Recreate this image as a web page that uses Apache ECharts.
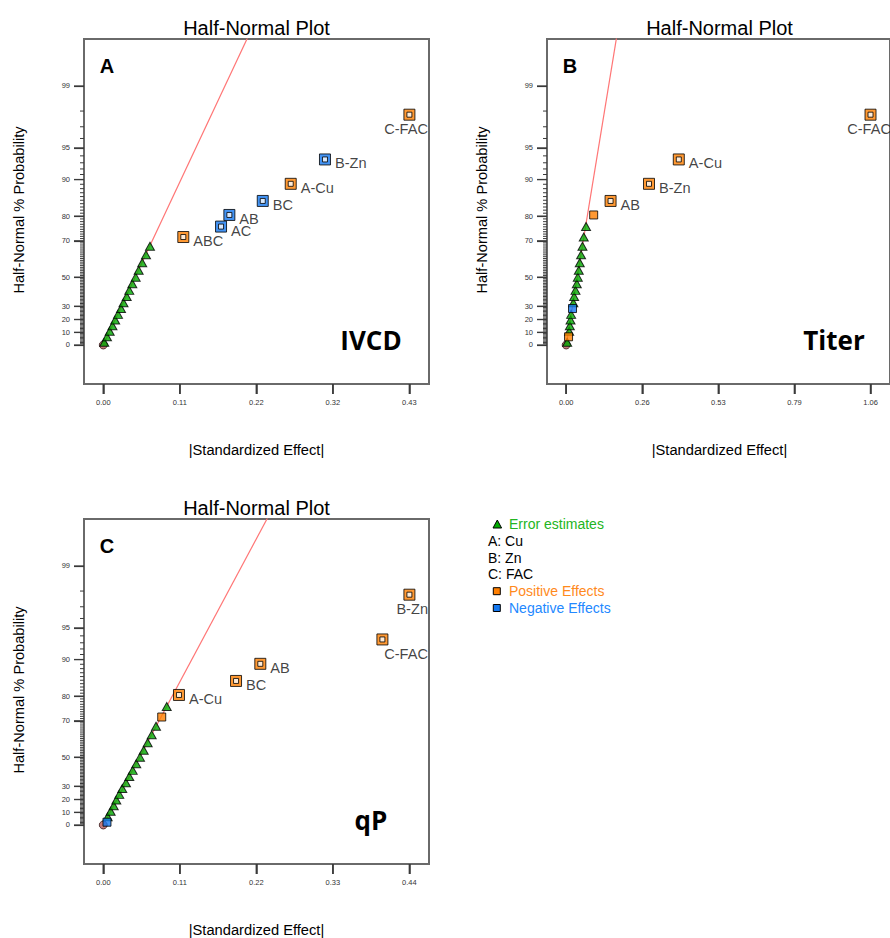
<!DOCTYPE html>
<html>
<head>
<meta charset="utf-8">
<script src="https://cdn.jsdelivr.net/npm/echarts@6/dist/echarts.min.js"></script>
<style>html,body{margin:0;padding:0;background:#fff}#c{width:890px;height:938px}</style>
</head>
<body>
<div id="c"></div>
<script>
// ---------- data ----------
// Probability axis labels (half-normal %)
const probTickLabels = [0, 10, 20, 30, 50, 70, 80, 90, 95, 99];

// Panel A : IVCD
const A_errorEffect = [0.0014, 0.0052, 0.0090, 0.0129, 0.0167, 0.0207, 0.0249, 0.0284, 0.0329, 0.0365, 0.0408, 0.0455, 0.0497, 0.0547, 0.0600, 0.0656];
const A_errorProb   = [2.2, 6.5, 10.9, 15.2, 19.6, 23.9, 28.3, 32.6, 37.0, 41.3, 45.7, 50.0, 54.3, 58.7, 63.0, 67.4];
const A_plainEffect = [];
const A_plainProb   = [];
const A_plainSign   = [];
const A_termNames   = ['ABC', 'AC', 'AB', 'BC', 'A-Cu', 'B-Zn', 'C-FAC'];
const A_termEffect  = [0.1124, 0.1654, 0.1771, 0.2240, 0.2633, 0.3114, 0.4300];
const A_termProb    = [71.7, 76.1, 80.4, 84.8, 89.1, 93.5, 97.8];
const A_termSign    = ['+', '-', '-', '-', '+', '-', '+'];
const A_xTicks      = [0, 0.1075, 0.215, 0.3225, 0.43];
const A_xTickLabels = ['0.00', '0.11', '0.22', '0.32', '0.43'];
const A_line        = [[0, 0], [0.2119, 99.86]];

// Panel B : Titer
const B_errorEffect = [0.0035, 0.0104, 0.0128, 0.0152, 0.0173, 0.0250, 0.0277, 0.0325, 0.0370, 0.0405, 0.0439, 0.0474, 0.0519, 0.0567, 0.0612, 0.0692];
const B_errorProb   = [2.2, 10.9, 15.2, 19.6, 23.9, 32.6, 37.0, 41.3, 45.7, 50.0, 54.3, 58.7, 63.0, 67.4, 71.7, 76.1];
const B_plainEffect = [0.0083, 0.0221, 0.0958];
const B_plainProb   = [6.5, 28.3, 80.4];
const B_plainSign   = ['+', '-', '+'];
const B_termNames   = ['AB', 'B-Zn', 'A-Cu', 'C-FAC'];
const B_termEffect  = [0.1546, 0.2885, 0.3922, 1.06];
const B_termProb    = [84.8, 89.1, 93.5, 97.8];
const B_termSign    = ['+', '+', '+', '+'];
const B_xTicks      = [0, 0.265, 0.53, 0.795, 1.06];
const B_xTickLabels = ['0.00', '0.26', '0.53', '0.79', '1.06'];
const B_line        = [[0, 0], [0.1833, 99.86]];

// Panel C : qP
const C_errorEffect = [0.0063, 0.0106, 0.0150, 0.0187, 0.0230, 0.0273, 0.0326, 0.0374, 0.0423, 0.0474, 0.0528, 0.0581, 0.0638, 0.0696, 0.0758, 0.0912];
const C_errorProb   = [6.5, 10.9, 15.2, 19.6, 23.9, 28.3, 32.6, 37.0, 41.3, 45.7, 50.0, 54.3, 58.7, 63.0, 67.4, 76.1];
const C_plainEffect = [0.0053, 0.0840];
const C_plainProb   = [2.2, 71.7];
const C_plainSign   = ['-', '+'];
const C_termNames   = ['A-Cu', 'BC', 'AB', 'C-FAC', 'B-Zn'];
const C_termEffect  = [0.1088, 0.1908, 0.2257, 0.4012, 0.44];
const C_termProb    = [80.4, 84.8, 89.1, 93.5, 97.8];
const C_termSign    = ['+', '+', '+', '+', '+'];
const C_xTicks      = [0, 0.11, 0.22, 0.33, 0.44];
const C_xTickLabels = ['0.00', '0.11', '0.22', '0.33', '0.44'];
const C_line        = [[0, 0], [0.247, 99.86]];

const panelTags   = ['A', 'B', 'C'];
const panelNames  = ['IVCD', 'Titer', 'qP'];
const plotTitle   = 'Half-Normal Plot';
const xAxisTitle  = '|Standardized Effect|';
const yAxisTitle  = 'Half-Normal % Probability';
const legendItems = ['Error estimates', 'A: Cu', 'B: Zn', 'C: FAC', 'Positive Effects', 'Negative Effects'];

// ---------- half-normal probability scale ----------
function probit(p) {
  const a = [-3.969683028665376e+01, 2.209460984245205e+02, -2.759285104469687e+02, 1.383577518672690e+02, -3.066479806614716e+01, 2.506628277459239e+00];
  const b = [-5.447609879822406e+01, 1.615858368580409e+02, -1.556989798598866e+02, 6.680131188771972e+01, -1.328068155288572e+01];
  const c = [-7.784894002430293e-03, -3.223964580411365e-01, -2.400758277161838e+00, -2.549732539343734e+00, 4.374664141464968e+00, 2.938163982698783e+00];
  const d = [7.784695709041462e-03, 3.224671290700398e-01, 2.445134137142996e+00, 3.754408661907416e+00];
  const pl = 0.02425, ph = 1 - pl;
  let q, r;
  if (p < pl) { q = Math.sqrt(-2 * Math.log(p)); return (((((c[0]*q+c[1])*q+c[2])*q+c[3])*q+c[4])*q+c[5]) / ((((d[0]*q+d[1])*q+d[2])*q+d[3])*q+1); }
  if (p <= ph) { q = p - 0.5; r = q*q; return (((((a[0]*r+a[1])*r+a[2])*r+a[3])*r+a[4])*r+a[5])*q / (((((b[0]*r+b[1])*r+b[2])*r+b[3])*r+b[4])*r+1); }
  q = Math.sqrt(-2 * Math.log(1 - p)); return -(((((c[0]*q+c[1])*q+c[2])*q+c[3])*q+c[4])*q+c[5]) / ((((d[0]*q+d[1])*q+d[2])*q+d[3])*q+1);
}
// half-normal score, shifted so that the axis starts at 0 (bottom edge of the frame)
const Y_LOW = -0.388, Y_HIGH = 3.043;
function hz(pct) { return (pct <= 0 ? 0 : probit(0.5 + pct / 200)) - Y_LOW; }

// ---------- layout / style ----------
const FONT = 'Liberation Sans, Arial, Helvetica, sans-serif';
const BOLDFONT = '"Open Sans", "Noto Sans", sans-serif';
const ORANGE = '#ff7f00', BLUE = '#1478f0', GREEN = '#00aa00';
const FRAME = '#6a6a6a', TICK = '#3a3a3a';
const GRIDS = [
  {left: 84, top: 39, width: 345, height: 345},
  {left: 547, top: 39, width: 345, height: 345},
  {left: 84, top: 519, width: 345, height: 345}
];

const panels = [
  {err: [A_errorEffect, A_errorProb], plain: [A_plainEffect, A_plainProb, A_plainSign], term: [A_termNames, A_termEffect, A_termProb, A_termSign], ticks: A_xTicks, tickLabels: A_xTickLabels, line: A_line},
  {err: [B_errorEffect, B_errorProb], plain: [B_plainEffect, B_plainProb, B_plainSign], term: [B_termNames, B_termEffect, B_termProb, B_termSign], ticks: B_xTicks, tickLabels: B_xTickLabels, line: B_line},
  {err: [C_errorEffect, C_errorProb], plain: [C_plainEffect, C_plainProb, C_plainSign], term: [C_termNames, C_termEffect, C_termProb, C_termSign], ticks: C_xTicks, tickLabels: C_xTickLabels, line: C_line}
];

const majorZ = probTickLabels.map(hz);
const minorZ = [];
for (let p = 1; p < 99; p++) if (probTickLabels.indexOf(p) < 0) minorZ.push(hz(p));

const grid = [], xAxis = [], yAxis = [], series = [], graphic = [];
const shiftedTicks = [];

panels.forEach((P, k) => {
  const g = GRIDS[k];
  grid.push(Object.assign({show: true, borderColor: FRAME, borderWidth: 2}, g));
  const xMax = P.ticks[P.ticks.length - 1];
  const xOff = 0.063 * xMax;            // frame padding left of zero effect
  const fx = e => e + xOff;
  const tks = P.ticks.map(fx);
  shiftedTicks.push(tks);
  xAxis.push({
    gridIndex: k, type: 'value', min: 0, max: 1.127 * xMax,
    axisLine: {show: true, lineStyle: {color: FRAME, width: 2}}, splitLine: {show: false},
    axisTick: {show: true, customValues: tks, length: 10, lineStyle: {color: TICK, width: 1.5}},
    axisLabel: {customValues: tks, margin: 14, fontSize: 7.5, color: '#333', fontFamily: FONT,
      formatter: v => { for (let i = 0; i < tks.length; i++) if (Math.abs(tks[i] - v) < 1e-9) return P.tickLabels[i]; return ''; }}
  });
  yAxis.push({
    gridIndex: k, type: 'value', min: 0, max: Y_HIGH - Y_LOW,
    axisLine: {show: true, lineStyle: {color: FRAME, width: 2}}, splitLine: {show: false},
    axisTick: {show: true, customValues: majorZ, length: 10, lineStyle: {color: TICK, width: 1.2}},
    axisLabel: {customValues: majorZ, margin: 14, fontSize: 7.5, color: '#333', fontFamily: FONT,
      formatter: v => { for (let i = 0; i < majorZ.length; i++) if (Math.abs(majorZ[i] - v) < 1e-9) return String(probTickLabels[i]); return ''; }}
  });
  const ax = {xAxisIndex: k, yAxisIndex: k};
  // fitted line
  series.push(Object.assign({type: 'line', data: P.line.map(d => [fx(d[0]), hz(d[1])]),
    symbol: 'none', silent: true, clip: true, lineStyle: {color: '#ff7575', width: 1.2}, z: 1}, ax));
  // origin marker
  series.push(Object.assign({type: 'scatter', data: [[fx(0), hz(0)]], symbol: 'circle', symbolSize: 8,
    itemStyle: {color: '#b55a5a', borderColor: '#3a1c1c', borderWidth: 1}, silent: true, z: 2}, ax));
  // error estimates
  series.push(Object.assign({type: 'scatter',
    data: P.err[0].map((e, i) => [fx(e), hz(P.err[1][i])]), symbol: 'triangle', symbolSize: [9, 8],
    itemStyle: {color: GREEN, borderColor: '#000', borderWidth: 1}, silent: true, z: 3}, ax));
  // unlabeled effects
  series.push(Object.assign({type: 'scatter',
    data: P.plain[0].map((e, i) => ({value: [fx(e), hz(P.plain[1][i])], itemStyle: {color: P.plain[2][i] === '+' ? ORANGE : BLUE}})),
    symbol: 'rect', symbolSize: 8, itemStyle: {borderColor: '#000', borderWidth: 1}, silent: true, z: 4}, ax));
  // labeled effects (outer)
  const gr = g.left + g.width;
  series.push(Object.assign({type: 'scatter',
    data: P.term[0].map((n, i) => ({name: n, value: [fx(P.term[1][i]), hz(P.term[2][i])], itemStyle: {color: P.term[3][i] === '+' ? ORANGE : BLUE}})),
    symbol: 'rect', symbolSize: 11, itemStyle: {borderColor: '#000', borderWidth: 1}, silent: true, z: 5,
    label: {show: true, position: 'right', distance: 4, formatter: '{b}', fontSize: 14.6, color: '#111', fontFamily: FONT},
    labelLayout: params => {
      const lr = params.labelRect;
      if (lr.x + lr.width > gr - 1) {
        return {x: gr - 1, y: params.rect.y + params.rect.height + 1, align: 'right', verticalAlign: 'top'};
      }
      return {dy: 4};
    }
  }, ax));
  // labeled effects (inner white)
  series.push(Object.assign({type: 'scatter',
    data: P.term[1].map((e, i) => [fx(e), hz(P.term[2][i])]), symbol: 'rect', symbolSize: 5,
    itemStyle: {color: '#fff', borderColor: '#000', borderWidth: 1}, silent: true, z: 6}, ax));

  // texts
  const cx = g.left + g.width / 2;
  graphic.push({type: 'text', x: cx, y: g.top - 11.5, style: {text: plotTitle, font: '20px ' + FONT, fill: '#000', align: 'center', verticalAlign: 'middle', textAlign: 'center', textVerticalAlign: 'middle'}});
  graphic.push({type: 'text', x: cx, y: g.top + 411, style: {text: xAxisTitle, font: '14.7px ' + FONT, fill: '#000', align: 'center', verticalAlign: 'middle', textAlign: 'center', textVerticalAlign: 'middle'}});
  graphic.push({type: 'text', x: g.left - 65, y: g.top + 171, rotation: Math.PI / 2, style: {text: yAxisTitle, font: '14.6px ' + FONT, fill: '#000', align: 'center', verticalAlign: 'middle', textAlign: 'center', textVerticalAlign: 'middle'}});
  graphic.push({type: 'text', x: g.left + 23, y: g.top + 27, style: {text: panelTags[k], font: 'bold 20px ' + FONT, fill: '#000', align: 'center', verticalAlign: 'middle', textAlign: 'center', textVerticalAlign: 'middle'}});
  graphic.push({type: 'text', x: g.left + 287, y: g.top + 301, style: {text: panelNames[k], font: 'bold 26px ' + BOLDFONT, fill: '#000', align: 'center', verticalAlign: 'middle', textAlign: 'center', textVerticalAlign: 'middle'}});
});

// legend
const LX = 488, LY = 524, LS = 16.8;
graphic.push({type: 'polygon', shape: {points: [[493, 528], [501.6, 528], [497.3, 520]]}, style: {fill: GREEN, stroke: '#000', lineWidth: 1}});
graphic.push({type: 'rect', shape: {x: 493.3, y: LY + 4 * LS - 3.5, width: 7, height: 7}, style: {fill: ORANGE, stroke: '#000', lineWidth: 1}});
graphic.push({type: 'rect', shape: {x: 493.3, y: LY + 5 * LS - 3.5, width: 7, height: 7}, style: {fill: BLUE, stroke: '#000', lineWidth: 1}});
const legendColors = ['#22b522', '#000', '#000', '#000', '#ff8a1c', '#2288ff'];
const legendX = [509, LX, LX, LX, 509, 509];
legendItems.forEach((t, i) => {
  graphic.push({type: 'text', x: legendX[i], y: LY + i * LS, style: {text: t, font: '14px ' + FONT, fill: legendColors[i], align: 'left', verticalAlign: 'middle', textAlign: 'left', textVerticalAlign: 'middle'}});
});

const chart = echarts.init(document.getElementById('c'), null, {renderer: 'svg', width: 890, height: 938});
chart.setOption({animation: false, backgroundColor: '#fff', grid, xAxis, yAxis, series, graphic});

// tick marks placed through the axes' own scales (convertToPixel)
try {
  const tickEls = [];
  const addLine = (x1, y1, x2, y2, w) => tickEls.push({type: 'line', silent: true, z: 100,
    shape: {x1: x1, y1: y1, x2: x2, y2: y2}, style: {stroke: TICK, lineWidth: w}});
  panels.forEach((P, k) => {
    shiftedTicks[k].forEach(t => {
      const p = chart.convertToPixel({gridIndex: k}, [t, 0]);
      if (p) addLine(p[0], p[1], p[0], p[1] + 10, 1.5);
    });
    majorZ.forEach(z => {
      const p = chart.convertToPixel({gridIndex: k}, [0, z]);
      if (p) addLine(p[0] - 10, p[1], p[0], p[1], 1.2);
    });
    minorZ.forEach(z => {
      const p = chart.convertToPixel({gridIndex: k}, [0, z]);
      if (p) addLine(p[0] - 4, p[1], p[0], p[1], 1);
    });
  });
  chart.setOption({graphic: graphic.concat(tickEls)});
} catch (e) { /* keep chart as drawn */ }
</script>
</body>
</html>
